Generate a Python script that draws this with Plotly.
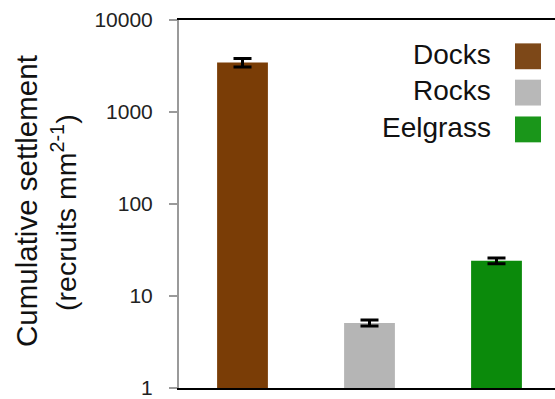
import plotly.graph_objects as go

# Settlement data by habitat
habitats = ["Docks", "Rocks", "Eelgrass"]
settlement = [3450, 5.1, 24.1]
settlement_se = [360, 0.38, 1.75]
bar_colors = ["#7a3d06", "#b5b5b5", "#0b8a0b"]
swatch_colors = ["#7d4818", "#b8b8b8", "#1a961a"]

tick_values = [1, 10, 100, 1000, 10000]
tick_labels = ["1", "10", "100", "1000", "10000"]

W, H = 555, 399
L, T, R_PX, B_PX = 179, 20, 555, 390  # plot area in pixels
pw, ph = R_PX - L, B_PX - T


def px_x(x):
    return (x - L) / pw


def px_y(y):
    return (B_PX - y) / ph


FONT = "Liberation Sans, Arial, sans-serif"

fig = go.Figure()
fig.add_trace(go.Bar(
    x=habitats,
    y=settlement,
    marker=dict(color=bar_colors, line=dict(width=0)),
    width=0.4,
    error_y=dict(type="data", array=settlement_se, visible=True,
                 color="black", thickness=3, width=9),
    showlegend=False,
))

# Legend drawn as right-aligned labels with square swatches
annotations = []
shapes = []
legend_centers = [56.5, 93, 130]
for name, col, cy in zip(habitats, swatch_colors, legend_centers):
    annotations.append(dict(
        x=px_x(493), y=px_y(cy - 2), xref="paper", yref="paper",
        text=name, showarrow=False, xanchor="right", yanchor="middle",
        font=dict(family=FONT, size=28, color="#111111"),
    ))
    shapes.append(dict(
        type="rect", xref="paper", yref="paper",
        x0=px_x(515), x1=px_x(541), y0=px_y(cy + 13), y1=px_y(cy - 13),
        fillcolor=col, line=dict(width=0),
    ))

# Two-line y-axis title
annotations.append(dict(
    x=px_x(26), y=px_y(202), xref="paper", yref="paper",
    text="Cumulative settlement", showarrow=False, textangle=-90,
    xanchor="center", yanchor="middle",
    font=dict(family=FONT, size=29.5, color="#111111"),
))
annotations.append(dict(
    x=px_x(64), y=px_y(214), xref="paper", yref="paper",
    text="(recruits mm<sup>2-1</sup>)", showarrow=False, textangle=-90,
    xanchor="center", yanchor="middle",
    font=dict(family=FONT, size=28.5, color="#111111"),
))

fig.update_layout(
    width=W, height=H,
    margin=dict(l=L, r=W - R_PX, t=T, b=H - B_PX, pad=0),
    paper_bgcolor="white", plot_bgcolor="white",
    annotations=annotations, shapes=shapes,
    bargap=0.6,
    xaxis=dict(
        range=[-0.5, -0.5 + pw / 127.0],
        showticklabels=False, ticks="", showgrid=False, zeroline=False,
        showline=True, linecolor="black", linewidth=2, mirror=True,
    ),
    yaxis=dict(
        type="log", range=[0, 4],
        tickvals=tick_values, ticktext=tick_labels,
        ticks="outside", ticklen=8, tickwidth=2, tickcolor="#9a9a9a",
        showline=True, linecolor="#9a9a9a", linewidth=2,
        showgrid=False, zeroline=False,
        tickfont=dict(family=FONT, size=21, color="#222222"),
        ticklabelstandoff=12, ticklabeloverflow="allow",
    ),
)

fig.write_html("out.html")
